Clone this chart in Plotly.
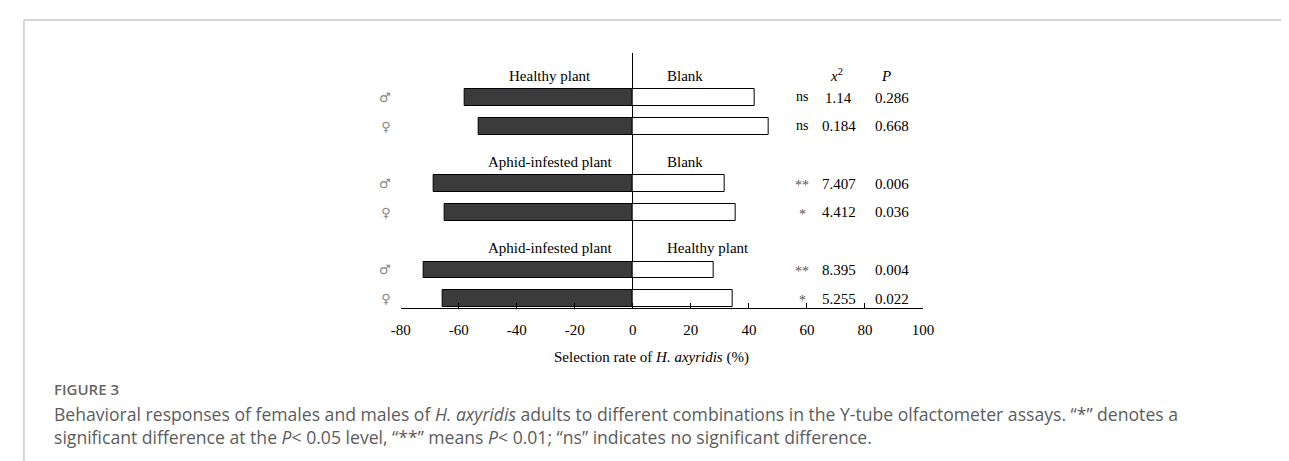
import plotly.graph_objects as go

W, H = 1289, 461

# ---------------- data ----------------
left_labels = ["Healthy plant", "Aphid-infested plant", "Aphid-infested plant"]
right_labels = ["Blank", "Blank", "Healthy plant"]
male_left = [58.0, 68.5, 72.1]
male_right = [42.0, 31.5, 27.9]
female_left = [53.1, 64.7, 65.5]
female_right = [46.9, 35.3, 34.5]
sig_male = ["ns", "**", "**"]
sig_female = ["ns", "*", "*"]
chi_male = ["1.14", "7.407", "8.395"]
chi_female = ["0.184", "4.412", "5.255"]
p_male = ["0.286", "0.006", "0.004"]
p_female = ["0.668", "0.036", "0.022"]
x_ticks = [-80, -60, -40, -20, 0, 20, 40, 60, 80, 100]
male_sym, female_sym = "♂", "♀"

SERIF = "Liberation Serif"

# row positions: header row, male row, female row per group
header_rows = [3 * g for g in range(3)]
male_rows = [3 * g + 1 for g in range(3)]
female_rows = [3 * g + 2 for g in range(3)]

def px_x(p):
    return p / W

def px_y(p):
    return 1 - p / H

fig = go.Figure()
bar_w = 0.58
dark = dict(color="#3b3b3b", line=dict(color="#000000", width=1))
light = dict(color="#ffffff", line=dict(color="#000000", width=1))

fig.add_trace(go.Bar(y=male_rows, x=[-v for v in male_left], orientation="h",
                     width=bar_w, marker=dark, showlegend=False))
fig.add_trace(go.Bar(y=female_rows, x=[-v for v in female_left], orientation="h",
                     width=bar_w, marker=dark, showlegend=False))
fig.add_trace(go.Bar(y=male_rows, x=male_right, orientation="h",
                     width=bar_w, marker=light, showlegend=False))
fig.add_trace(go.Bar(y=female_rows, x=female_right, orientation="h",
                     width=bar_w, marker=light, showlegend=False))

ann = []
tfont = dict(family=SERIF, size=15, color="#000000")
for g in range(3):
    ann.append(dict(x=-28.5, y=header_rows[g], xref="x", yref="y", text=left_labels[g],
                    showarrow=False, xanchor="center", yanchor="middle", yshift=-7, font=tfont))
    ann.append(dict(x=11, y=header_rows[g], xref="x", yref="y", text=right_labels[g],
                    showarrow=False, xanchor="left", yanchor="middle", yshift=-7, font=tfont))
    for row, sig, chi, p in [(male_rows[g], sig_male[g], chi_male[g], p_male[g]),
                             (female_rows[g], sig_female[g], chi_female[g], p_female[g])]:
        if sig == "ns":
            sf = dict(family=SERIF, size=14, color="#000000")
            ys = 1
        else:
            sf = dict(family=SERIF, size=14, color="#555555")
            ys = -2
        ann.append(dict(x=58.4, y=row, xref="x", yref="y", text=sig, showarrow=False,
                        xanchor="center", yanchor="middle", yshift=ys, font=sf))
        ann.append(dict(x=71.0, y=row, xref="x", yref="y", text=chi, showarrow=False,
                        xanchor="center", yanchor="middle", font=tfont))
        ann.append(dict(x=89.3, y=row, xref="x", yref="y", text=p, showarrow=False,
                        xanchor="center", yanchor="middle", font=tfont))

# stats headers
ann.append(dict(x=70.3, y=header_rows[0], xref="x", yref="y", text="<i>x</i><sup>2</sup>",
                showarrow=False, xanchor="center", yanchor="middle", yshift=-6, font=tfont))
ann.append(dict(x=87.3, y=header_rows[0], xref="x", yref="y", text="<i>P</i>",
                showarrow=False, xanchor="center", yanchor="middle", yshift=-7, font=tfont))

# axis title
ann.append(dict(x=px_x(644), y=px_y(349), xref="paper", yref="paper",
                text="Selection rate of <i>H. axyridis</i> (%)", showarrow=False,
                xanchor="center", yanchor="middle", font=tfont))

# caption
CAP = "Open Sans"
ann.append(dict(x=px_x(35), y=px_y(381), xref="paper", yref="paper", text="FIGURE 3",
                showarrow=False, xanchor="left", yanchor="middle",
                font=dict(family=CAP, size=15, color="#666666", weight=600)))
ann.append(dict(x=px_x(35), y=px_y(406), xref="paper", yref="paper",
                text="Behavioral responses of females and males of <i>H. axyridis</i> adults to different "
                     "combinations in the Y-tube olfactometer assays. “*” denotes a",
                showarrow=False, xanchor="left", yanchor="middle",
                font=dict(family=CAP, size=17.6, color="#5c5c5c")))
ann.append(dict(x=px_x(35), y=px_y(429), xref="paper", yref="paper",
                text="significant difference at the <i>P</i>&lt; 0.05 level, “**” means "
                     "<i>P</i>&lt; 0.01; “ns” indicates no significant difference.",
                showarrow=False, xanchor="left", yanchor="middle",
                font=dict(family=CAP, size=17.6, color="#5c5c5c")))

shapes = [
    dict(type="line", xref="paper", yref="paper", x0=px_x(6), x1=1, y0=px_y(12), y1=px_y(12),
         line=dict(color="#d6d6d6", width=2)),
    dict(type="line", xref="paper", yref="paper", x0=px_x(6), x1=px_x(6), y0=px_y(12), y1=0,
         line=dict(color="#d6d6d6", width=2)),
]

fig.update_layout(
    width=W, height=H, autosize=False,
    margin=dict(l=0, r=0, t=0, b=0),
    paper_bgcolor="white", plot_bgcolor="white",
    barmode="overlay", bargap=0,
    annotations=ann, shapes=shapes,
    showlegend=False,
    xaxis=dict(domain=[px_x(389), px_x(920)], range=[-80, 100], tickvals=x_ticks,
               ticktext=[str(v) for v in x_ticks], ticks="inside", ticklen=5,
               tickcolor="#000000", tickwidth=1.3, showline=True, linecolor="#000000",
               linewidth=1.3, zeroline=True, zerolinecolor="#000000", zerolinewidth=1.3,
               showgrid=False, tickfont=tfont, ticklabelstandoff=8, fixedrange=True),
    yaxis=dict(domain=[px_y(300), px_y(45)], range=[8.33, -0.56],
               tickvals=male_rows + female_rows,
               ticktext=[male_sym] * 3 + [female_sym] * 3,
               tickfont=dict(family="DejaVu Sans", size=13, color="#888888"),
               ticks="", showline=False, showgrid=False, zeroline=False,
               ticklabelstandoff=9, fixedrange=True),
)

fig.write_html("out.html")
